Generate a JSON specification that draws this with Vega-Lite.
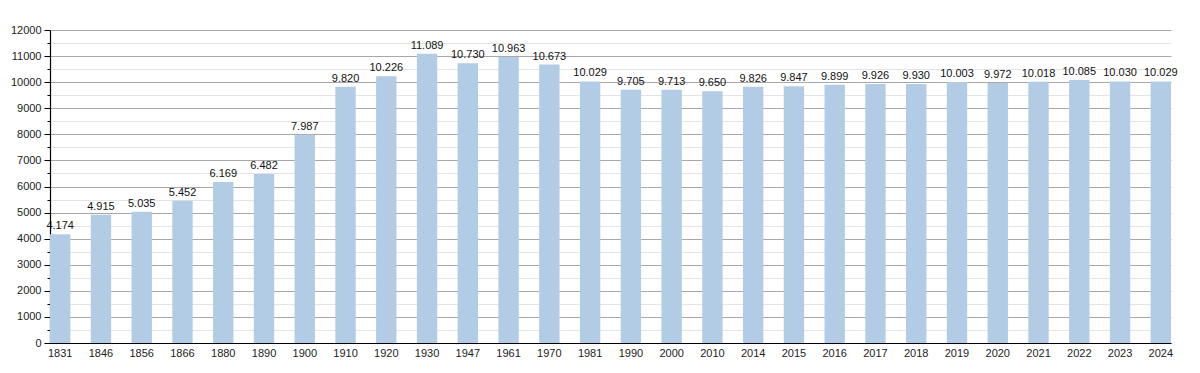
{
  "$schema": "https://vega.github.io/schema/vega-lite/v6.json",
  "autosize": {"type": "none"},
  "padding": {"left": 50, "top": 30, "right": 29, "bottom": 30},
  "width": 1121,
  "height": 313,
  "background": "white",
  "config": {
    "locale": {"number": {"decimal": ",", "thousands": ".", "grouping": [3], "currency": ["", " €"]}},
    "view": {"stroke": null},
    "font": "Liberation Sans"
  },
  "data": {"values": [
    {"year": "1831", "pop": 4174}, {"year": "1846", "pop": 4915}, {"year": "1856", "pop": 5035},
    {"year": "1866", "pop": 5452}, {"year": "1880", "pop": 6169}, {"year": "1890", "pop": 6482},
    {"year": "1900", "pop": 7987}, {"year": "1910", "pop": 9820}, {"year": "1920", "pop": 10226},
    {"year": "1930", "pop": 11089}, {"year": "1947", "pop": 10730}, {"year": "1961", "pop": 10963},
    {"year": "1970", "pop": 10673}, {"year": "1981", "pop": 10029}, {"year": "1990", "pop": 9705},
    {"year": "2000", "pop": 9713}, {"year": "2010", "pop": 9650}, {"year": "2014", "pop": 9826},
    {"year": "2015", "pop": 9847}, {"year": "2016", "pop": 9899}, {"year": "2017", "pop": 9926},
    {"year": "2018", "pop": 9930}, {"year": "2019", "pop": 10003}, {"year": "2020", "pop": 9972},
    {"year": "2021", "pop": 10018}, {"year": "2022", "pop": 10085}, {"year": "2023", "pop": 10030},
    {"year": "2024", "pop": 10029}
  ]},
  "encoding": {
    "x": {"field": "year", "type": "ordinal", "sort": null,
      "scale": {"paddingInner": 0.5, "paddingOuter": 0},
      "axis": {"title": null, "labelAngle": 0, "ticks": false, "domainColor": "#000", "domainWidth": 1.2,
        "labelFontSize": 11, "labelColor": "#222", "labelPadding": 4}},
    "y": {"field": "pop", "type": "quantitative",
      "scale": {"domain": [0, 12000], "nice": false},
      "axis": {"title": null, "values": [0,500,1000,1500,2000,2500,3000,3500,4000,4500,5000,5500,6000,6500,7000,7500,8000,8500,9000,9500,10000,10500,11000,11500,12000],
        "format": "d",
        "labelExpr": "datum.value % 1000 === 0 ? datum.label : ''",
        "gridColor": {"condition": {"test": "datum.value % 1000 === 0", "value": "#a8a8a8"}, "value": "#e4e4e4"},
        "tickSize": {"condition": {"test": "datum.value % 1000 === 0", "value": 6}, "value": 3},
        "tickColor": "#000",
        "domainColor": "#000", "domainWidth": 1.2,
        "labelFontSize": 11, "labelColor": "#222", "labelPadding": 3}}
  },
  "layer": [
    {"mark": {"type": "bar", "color": "#b3cce6"}},
    {"mark": {"type": "text", "baseline": "bottom", "dy": -3, "fontSize": 11, "color": "#111"},
      "encoding": {"text": {"field": "pop", "type": "quantitative", "format": ",d"}}}
  ]
}
